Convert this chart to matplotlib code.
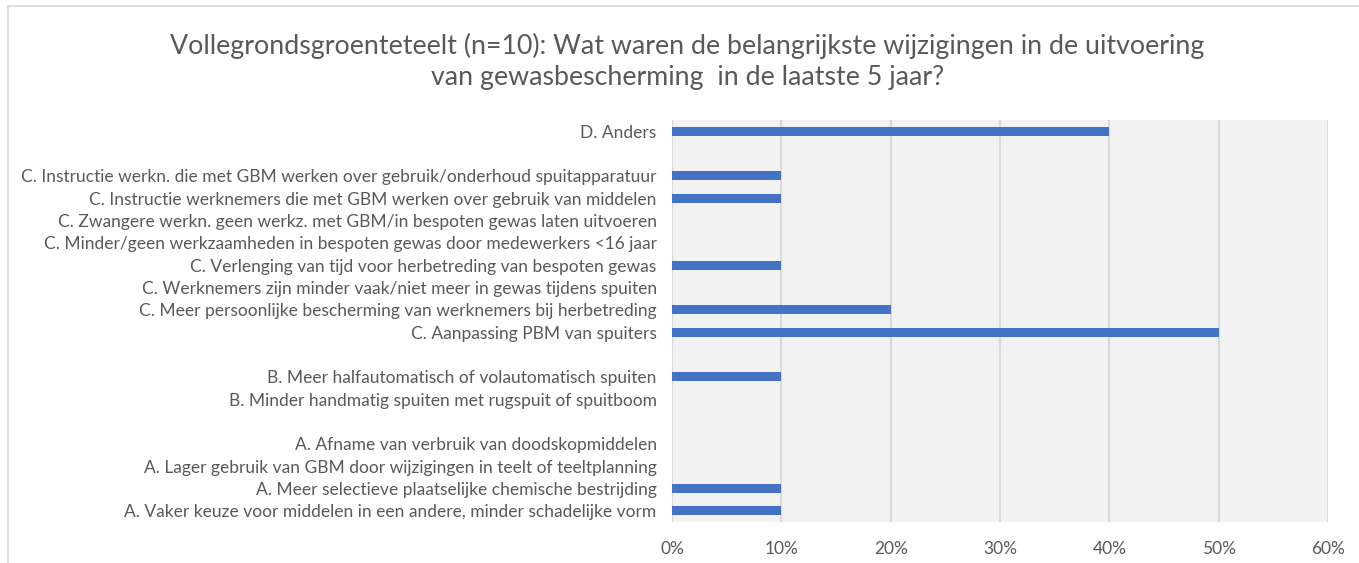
import numpy as np
import matplotlib.pyplot as plt
from matplotlib.patches import Rectangle

# Categories from bottom to top; empty strings are spacer rows between groups
labels = [
    "A. Vaker keuze voor middelen in een andere, minder schadelijke vorm",
    "A. Meer selectieve plaatselijke chemische bestrijding",
    "A. Lager gebruik van GBM door wijzigingen in teelt of teeltplanning",
    "A. Afname van verbruik van doodskopmiddelen",
    "",
    "B. Minder handmatig spuiten met rugspuit of spuitboom",
    "B. Meer halfautomatisch of volautomatisch spuiten",
    "",
    "C. Aanpassing PBM van spuiters",
    "C. Meer persoonlijke bescherming van werknemers bij herbetreding",
    "C. Werknemers zijn minder vaak/niet meer in gewas tijdens spuiten",
    "C. Verlenging van tijd voor herbetreding van bespoten gewas",
    "C. Minder/geen werkzaamheden in bespoten gewas door medewerkers <16 jaar",
    "C. Zwangere werkn. geen werkz. met GBM/in bespoten gewas laten uitvoeren",
    "C. Instructie werknemers die met GBM werken over gebruik van middelen",
    "C. Instructie werkn. die met GBM werken over gebruik/onderhoud spuitapparatuur",
    "",
    "D. Anders",
]
values = [10, 10, 0, 0, 0, 0, 10, 0, 50, 20, 0, 10, 0, 0, 10, 10, 0, 40]
ticks = [0, 10, 20, 30, 40, 50, 60]

title = ("Vollegrondsgroenteteelt (n=10): Wat waren de belangrijkste wijzigingen in de uitvoering\n"
         "van gewasbescherming  in de laatste 5 jaar?")

plt.rcParams['font.family'] = ['Lato', 'DejaVu Sans']
text_col = '#595959'

fig = plt.figure(figsize=(13.59, 5.63), dpi=100)
ax = fig.add_axes([0.4945, 0.0728, 0.4827, 0.7142])

y = np.arange(len(labels))
ax.barh(y, values, height=0.4, color='#4472C4', zorder=3)

ax.set_facecolor('#F2F2F2')
ax.set_xlim(0, 60)
ax.set_ylim(-0.5, len(labels) - 0.5)
ax.set_xticks(ticks)
ax.set_xticklabels([f"{t}%" for t in ticks], color=text_col, fontsize=12.5)
ax.set_yticks(y)
ax.set_yticklabels(labels, color=text_col, fontsize=12.5)
ax.tick_params(axis='both', length=0)
ax.tick_params(axis='x', pad=14)
ax.tick_params(axis='y', pad=11)
ax.xaxis.grid(True, color='#D9D9D9', linewidth=1.5, zorder=0)
for s in ax.spines.values():
    s.set_visible(False)

fig.text(0.506, 0.891, title, ha='center', va='center', fontsize=19.3,
         color=text_col, linespacing=1.32)

# light chart border
fig.add_artist(Rectangle((8 / 1359, -0.01), 1.0, 1 - 6 / 563 + 0.01,
                         transform=fig.transFigure, fill=False,
                         edgecolor='#D9D9D9', linewidth=1.2))

fig.savefig('out.png', dpi=100)
